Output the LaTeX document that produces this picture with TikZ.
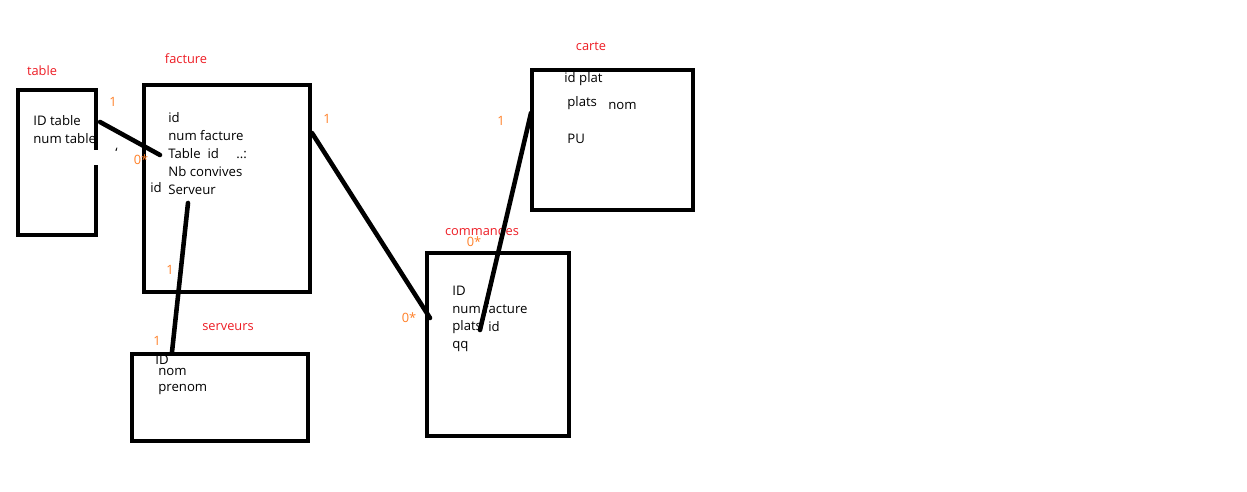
\documentclass[tikz,border=0pt]{standalone}
\usepackage{fontspec}
\setmainfont{Open Sans}
\usepackage{tikz}
\usetikzlibrary{calc}

\definecolor{paintred}{RGB}{237,28,36}
\definecolor{paintorange}{RGB}{255,127,39}

\tikzset{
  box/.style={draw, line width=2.6pt, rectangle, inner sep=0pt},
  link/.style={line width=2.6pt, line cap=round},
  title/.style={text=paintred, font=\fontsize{7.3}{8}\selectfont, inner sep=0pt},
  card/.style={text=paintorange, font=\fontsize{7.3}{8}\selectfont, inner sep=0pt},
  field/.style={anchor=west, font=\fontsize{7.5}{8}\selectfont, inner sep=0pt},
}

\begin{document}
\begin{tikzpicture}[x=0.02cm, y=-0.02cm]
                \useasboundingbox (0,0) rectangle (1247,492);

                % Boxes
                \node[box, minimum width=1.56cm, minimum height=2.9cm] (table) at (57,162.5) {};
                \node[box, minimum width=3.32cm, minimum height=4.14cm] (facture) at (227,188.5) {};
                \node[box, minimum width=3.22cm, minimum height=2.8cm] (carte) at (612.5,140) {};
                \node[box, minimum width=2.84cm, minimum height=3.66cm] (commandes) at (498,344.5) {};
                \node[box, minimum width=3.52cm, minimum height=1.74cm] (serveurs) at (220,397.5) {};
                \fill[white] (93,150) rectangle (101,165);

                % Titles
                \node[title] (ttable) at (42,71) {table};
                \node[title] (tfacture) at (186,59) {facture};
                \node[title] (tcarte) at (591,46) {carte};
                \node[title] (tserveurs) at (228,327) {serveurs};

                % table fields
                \node[field] (idtable) at (33,121) {ID table};
                \node[field] (numtable) at (33,139) {num table};

                % facture fields
                \node[field] (fid) at (168,118) {id};
                \node[field] (fnum) at (168,136) {num facture};
                \node[field] (ftable) at (168,154) {Table\ \ id};
                \node[field] (fdots) at (236,155) {..:};
                \node[field] (fnb) at (168,172) {Nb convives};
                \node[field] (fserv) at (168,190) {Serveur};
                \node[field] (fsid) at (150,188) {id};
                \node[field] (tick) at (115,153) {`};

                % carte fields
                \node[field] (cid) at (564,79) {id plat};
                \node[field] (cplats) at (567,103) {plats};
                \node[field] (cnom) at (608,106) {nom};
                \node[field] (cpu) at (567,139) {PU};

                % serveurs fields
                \node[field] (sid) at (155,360) {ID};
                \node[field] (snom) at (158,372) {nom};
                \node[field] (sprenom) at (158,389) {prenom};

                % commandes fields
                \node[field] (kid) at (452,291) {ID};
                \node[field] (knum) at (452,309) {num facture};
                \node[field] (kplats) at (452,327) {plats};
                \node[field] (kpid) at (488,327) {id};
                \node[field] (kqt) at (452,346) {qq};

                % commandes title drawn over by the link
                \node[title] (tcommandes) at (482,231) {commandes};

                % Links
                \coordinate (a1) at (100,122);
                \coordinate (a2) at (160,155);
                \coordinate (b1) at (188,203);
                \coordinate (b2) at (172,352);
                \coordinate (c1) at (312,133);
                \coordinate (c2) at (430,318);
                \coordinate (d1) at (531,113);
                \coordinate (d2) at (480,330);
                \draw[link] (a1) -- (a2);
                \draw[link] (b1) -- (b2);
                \draw[link] (c1) -- (c2);
                \draw[link] (d1) -- (d2);

                % Cardinalities
                \node[card] at (113,102) {1};
                \node[card] at (141,160) {0*};
                \node[card] at (327,119) {1};
                \node[card] at (170,270) {1};
                \node[card] at (157,341) {1};
                \node[card] at (409,318) {0*};
                \node[card] at (501,121) {1};
                \node[card] at (474,242) {0*};
            \end{tikzpicture}
\end{document}
